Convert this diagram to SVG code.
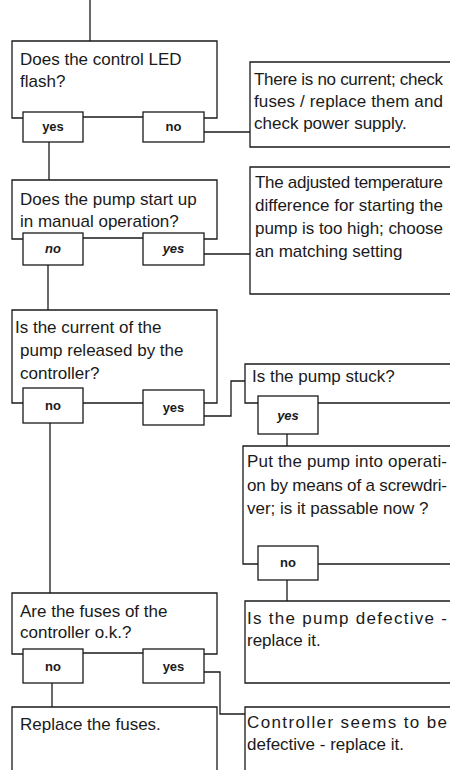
<svg xmlns="http://www.w3.org/2000/svg" width="450" height="770" viewBox="0 0 450 770">
<style>
.ln{fill:none;stroke:#1a1a1a;stroke-width:1.3}
.bx{fill:#fff;stroke:#1a1a1a;stroke-width:1.3}
.t{font-family:"Liberation Sans",Arial,sans-serif;font-size:17px;fill:#1a1a1a}
.l{font-family:"Liberation Sans",Arial,sans-serif;font-size:13px;font-weight:bold;fill:#1a1a1a;text-anchor:middle}
.i{font-style:italic}
</style>
<rect width="450" height="770" fill="#fff"/>
<g id="connectors" class="ln">
<path d="M90,0 V41"/>
<path d="M49,142 V180"/>
<path d="M204,132 H250"/>
<path d="M48,265 V310"/>
<path d="M204,254 H250"/>
<path d="M50,423 V593"/>
<path d="M204,416 H231 V381 H245"/>
<path d="M287,434 V446"/>
<path d="M287,580 V601"/>
<path d="M52,683 V707"/>
<path d="M204,672 H220 V714 H245"/>
</g>
<g id="q1">
<path class="ln" d="M23,118 H12 V41 H217 V118 H204 M83,117 H143"/>
<text class="t" x="20" y="65">Does the control LED</text>
<text class="t" x="20" y="87">flash?</text>
</g>
<g id="q1-yes"><rect class="bx" x="23" y="112" width="60" height="30"/><text class="l" x="53" y="131">yes</text></g>
<g id="q1-no"><rect class="bx" x="143" y="112" width="61" height="30"/><text class="l" x="173.500" y="131">no</text></g>
<g id="a1">
<path class="ln" d="M450,62 H250 V147 H450"/>
<text class="t" x="254" y="85" textLength="189" lengthAdjust="spacing">There is no current; check</text>
<text class="t" x="254" y="107" textLength="189" lengthAdjust="spacing">fuses / replace them and</text>
<text class="t" x="254" y="129">check power supply.</text>
</g>
<g id="q2">
<path class="ln" d="M23,239 H12 V180 H217 V239 H204 M83,238 H143"/>
<text class="t" x="20" y="205">Does the pump start up</text>
<text class="t" x="20" y="227">in manual operation?</text>
</g>
<g id="q2-no"><rect class="bx" x="23" y="233" width="60" height="32"/><text class="l i" x="53" y="253">no</text></g>
<g id="q2-yes"><rect class="bx" x="143" y="233" width="61" height="32"/><text class="l i" x="173.500" y="253">yes</text></g>
<g id="a2">
<path class="ln" d="M450,167 H250 V294 H450"/>
<text class="t" x="255" y="188" textLength="188" lengthAdjust="spacing">The adjusted temperature</text>
<text class="t" x="255" y="211" textLength="188" lengthAdjust="spacing">difference for starting the</text>
<text class="t" x="255" y="234" textLength="188" lengthAdjust="spacing">pump is too high; choose</text>
<text class="t" x="255" y="257">an matching setting</text>
</g>
<g id="q3">
<path class="ln" d="M23,403 H12 V310 H217 V403 H204 M83,403 H143"/>
<text class="t" x="15" y="333">Is the current of the</text>
<text class="t" x="20" y="356">pump released by the</text>
<text class="t" x="20" y="379">controller?</text>
</g>
<g id="q3-no"><rect class="bx" x="23" y="388" width="60" height="35"/><text class="l" x="53" y="410">no</text></g>
<g id="q3-yes"><rect class="bx" x="143" y="390" width="61" height="35"/><text class="l" x="173.500" y="412">yes</text></g>
<g id="q4">
<path class="ln" d="M450,364 H245 V403 H258 M318,403 H450"/>
<text class="t" x="252" y="382">Is the pump stuck?</text>
</g>
<g id="q4-yes"><rect class="bx" x="258" y="396" width="60" height="38"/><text class="l i" x="288" y="420">yes</text></g>
<g id="q5">
<path class="ln" d="M450,446 H243 V564 H258 M318,564 H450"/>
<text class="t" x="247" y="467" textLength="200" lengthAdjust="spacing">Put the pump into operati-</text>
<text class="t" x="247" y="491" textLength="200" lengthAdjust="spacing">on by means of a screwdri-</text>
<text class="t" x="247" y="514">ver; is it passable now ?</text>
</g>
<g id="q5-no"><rect class="bx" x="258" y="546" width="60" height="34"/><text class="l" x="288" y="567">no</text></g>
<g id="a3">
<path class="ln" d="M450,601 H245 V683 H450"/>
<text class="t" x="247" y="624" textLength="200" lengthAdjust="spacing">Is the pump defective -</text>
<text class="t" x="247" y="646">replace it.</text>
</g>
<g id="q6">
<path class="ln" d="M23,654 H12 V593 H217 V654 H204 M83,653 H143"/>
<text class="t" x="20" y="617">Are the fuses of the</text>
<text class="t" x="20" y="638">controller o.k.?</text>
</g>
<g id="q6-no"><rect class="bx" x="23" y="649" width="60" height="34"/><text class="l" x="53" y="671">no</text></g>
<g id="q6-yes"><rect class="bx" x="143" y="649" width="61" height="34"/><text class="l" x="173.500" y="671">yes</text></g>
<g id="a4">
<path class="ln" d="M12,770 V707 H217 V770"/>
<text class="t" x="20" y="730">Replace the fuses.</text>
</g>
<g id="a5">
<path class="ln" d="M450,707 H245 V770"/>
<text class="t" x="247" y="728" textLength="200" lengthAdjust="spacing">Controller seems to be</text>
<text class="t" x="247" y="750">defective - replace it.</text>
</g>
</svg>
